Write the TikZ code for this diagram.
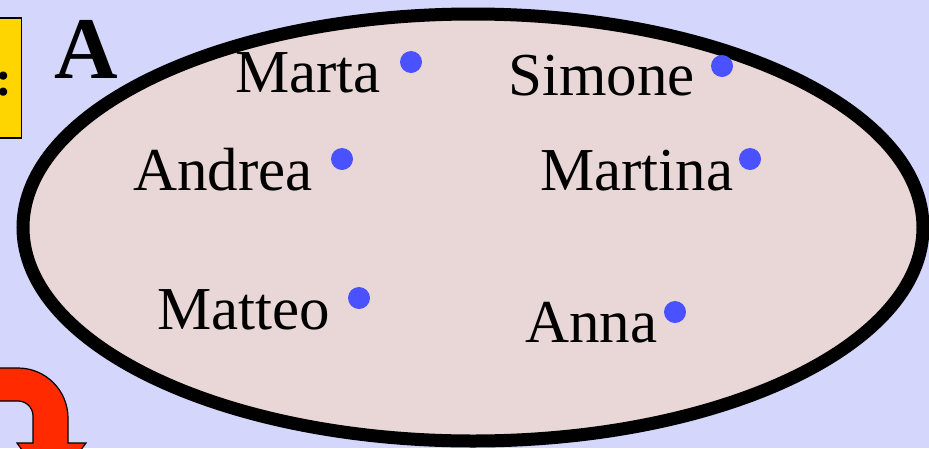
\documentclass[tikz,border=0pt]{standalone}
\usepackage{fontspec}
\usetikzlibrary{shapes.geometric}
\setmainfont{Liberation Serif}
\definecolor{bgcol}{HTML}{D5D6FC}
\definecolor{setfill}{HTML}{E9D7D7}
\definecolor{dotcol}{HTML}{4A52FF}
\definecolor{boxyellow}{HTML}{FFD500}
\definecolor{arrowred}{HTML}{FF2A00}
\tikzset{
  member/.style={anchor=base west, inner sep=0pt, font=\fontsize{61}{70}\selectfont},
  elem/.style={circle, fill=dotcol, inner sep=0pt, minimum size=22pt},
}
\begin{document}
\begin{tikzpicture}[x=1pt,y=-1pt]
  \useasboundingbox (0,0) rectangle (929,448);
  \clip (0,0) rectangle (929,448);
  \fill[bgcol] (0,0) rectangle (929,448);

  % partly visible label box at the left edge
  \node[name=tag, draw=black, line width=1.5pt, fill=boxyellow, anchor=north east,
        minimum width=70pt, minimum height=120pt, inner sep=0pt] at (22,17) {};
  \node[name=tagtext, anchor=base, inner sep=0pt, font=\bfseries\fontsize{50}{60}\selectfont] at (4,95) {:};

  % set name
  \node[name=setname, anchor=base west, inner sep=0pt, font=\bfseries\fontsize{88}{100}\selectfont] at (54,78) {A};

  % the set
  \node[name=setA, draw=black, line width=13pt, fill=setfill, ellipse,
        minimum width=900pt, minimum height=427pt, inner sep=0pt] at (473,227.5) {};

  % bent arrow at the bottom left
  \filldraw[fill=arrowred, draw=black, line width=1.2pt]
    (-5,368) -- (18,368) .. controls (45.6,368) and (68,390.4) .. (68,418)
    -- (68,443) -- (86,443) -- (51,490) -- (17,443) -- (33,443) -- (33,416)
    .. controls (33,407.7) and (26.3,401) .. (18,401) -- (-5,401) -- cycle;

  % members
  \node[member, name=marta] at (235,92) {Marta};
  \node[elem, name=dmarta] at (411,62) {};
  \node[member, name=simone] at (508,95) {Simone};
  \node[elem, name=dsimone] at (722,66) {};
  \node[member, name=andrea] at (133,190) {Andrea};
  \node[elem, name=dandrea] at (342,159) {};
  \node[member, name=martina] at (540,190) {Martina};
  \node[elem, name=dmartina] at (750,159) {};
  \node[member, name=matteo] at (157,329) {Matteo};
  \node[elem, name=dmatteo] at (359,298) {};
  \node[member, name=anna] at (525,342) {Anna};
  \node[elem, name=danna] at (675,312) {};
\end{tikzpicture}
\end{document}
